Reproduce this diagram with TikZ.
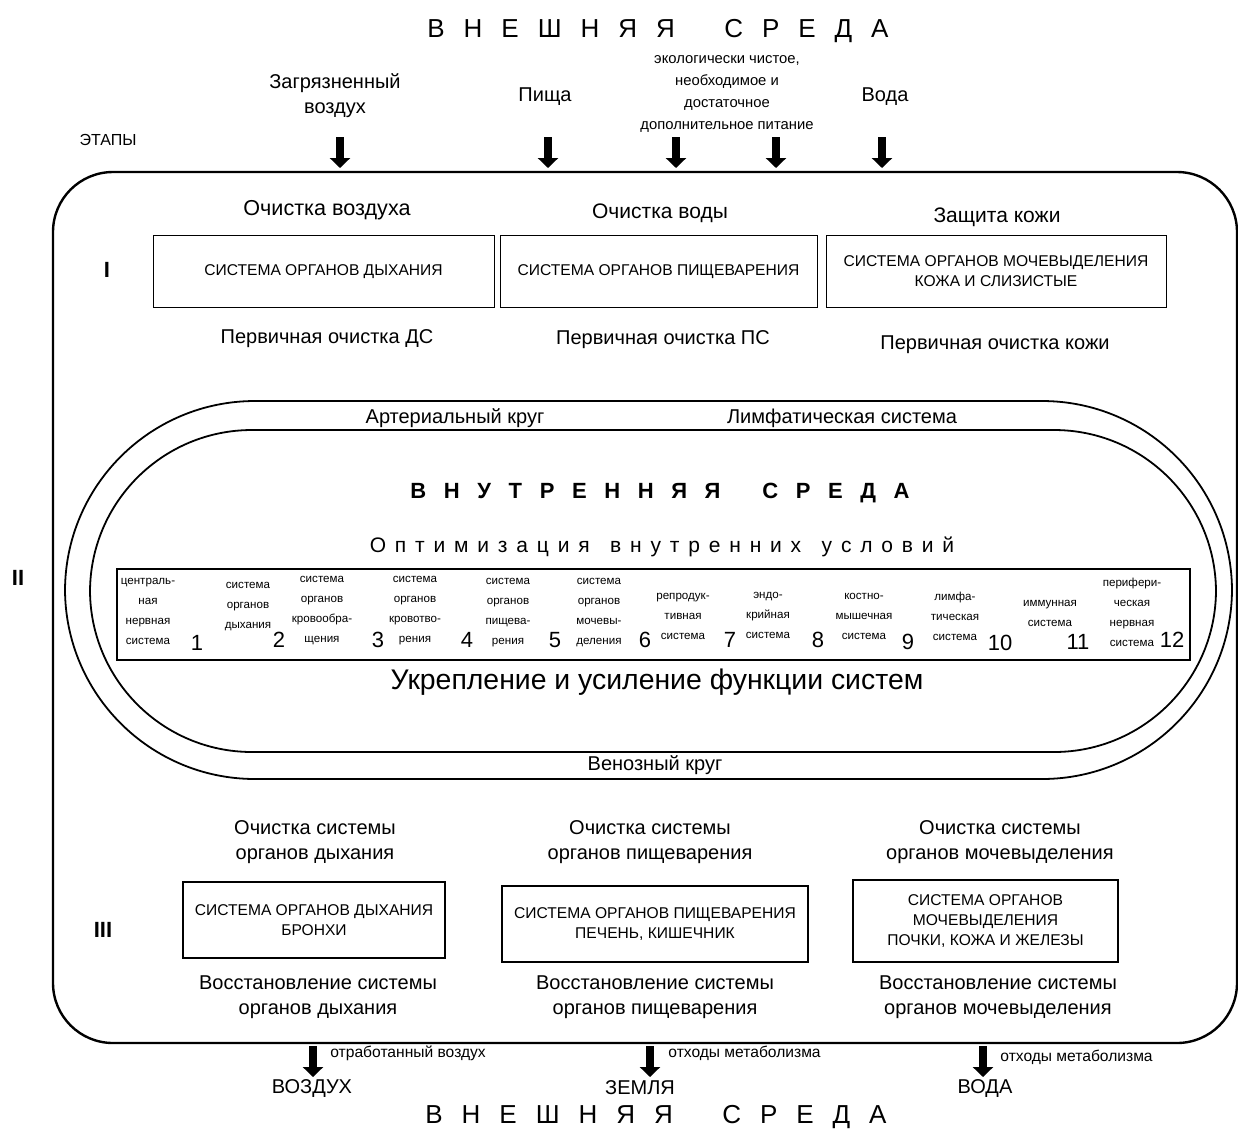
\documentclass[tikz,border=0pt]{standalone}
\usepackage{fontspec}
\setmainfont{Liberation Sans}
\usetikzlibrary{arrows.meta, positioning}
\newcommand{\ls}{\hspace{0.73em}}
\newcommand{\ws}{\hspace{1.9em}}
\newcommand{\lsin}{\hspace{0.8em}}
\newcommand{\lso}{\hspace{0.42em}}

\begin{document}
\begin{tikzpicture}[x=0.5pt, y=-0.5pt,
    lbl/.style={font=\fontsize{10}{12.5}\selectfont, align=center, inner sep=1pt},
    captxt/.style={font=\fontsize{7.8}{10}\selectfont, align=center, inner sep=1pt},
    small/.style={font=\fontsize{5.8}{10}\selectfont, align=center, inner sep=0pt},
    note/.style={font=\fontsize{7.8}{9}\selectfont, anchor=west, inner sep=0pt},
    num/.style={font=\fontsize{11}{11}\selectfont, inner sep=0pt},
    stage/.style={font=\bfseries\fontsize{11}{11}\selectfont},
    title/.style={font=\fontsize{13}{13}\selectfont},
    flow/.style={-{Triangle[width=10pt,length=5pt]}, line width=3.6pt},
    boxI/.style={draw, line width=0.5pt, minimum height=36pt, captxt},
    boxIII/.style={draw, line width=1pt, minimum height=38pt, captxt}]
    \useasboundingbox (0,0) rectangle (1238,1137);

    % Outer frame
    \draw[line width=1.2pt, rounded corners=30pt] (53,172) rectangle (1237,1043);

    % Titles
    \node[title] (outTop) at (658,31)
        {В\ls Н\ls Е\ls Ш\ls Н\ls Я\ls Я\ws С\ls Р\ls Е\ls Д\ls А};
    \node[title] (outBot) at (656,1117)
        {В\ls Н\ls Е\ls Ш\ls Н\ls Я\ls Я\ws С\ls Р\ls Е\ls Д\ls А};
    \node[font=\fontsize{8}{8}\selectfont] (stages) at (108,140) {ЭТАПЫ};

    % Inputs
    \node[lbl] (air) at (335,96) {Загрязненный\\воздух};
    \node[lbl] (food) at (545,97) {Пища};
    \node[small, font=\fontsize{7.4}{11}\selectfont] (eco) at (727,94)
        {экологически чистое,\\необходимое и\\достаточное\\дополнительное питание};
    \node[lbl] (water) at (885,97) {Вода};
    \foreach \n/\x in {a/340, b/548, c/676, d/776, e/882} {
        \coordinate (in\n) at (\x,137);
        \coordinate (inE\n) at (\x,168);
        \draw[flow] (in\n) -- (inE\n);
    }

    % Stage I
    \node[stage] (st1) at (107,270) {I};
    \node[boxI, minimum width=170.5pt] (resp) at (323.5,271.5) {СИСТЕМА ОРГАНОВ ДЫХАНИЯ};
    \node[boxI, minimum width=158.5pt] (dig) at (658.5,271.5) {СИСТЕМА ОРГАНОВ ПИЩЕВАРЕНИЯ};
    \node[boxI, minimum width=170pt] (uri) at (996,271.5) {СИСТЕМА ОРГАНОВ МОЧЕВЫДЕЛЕНИЯ\\КОЖА И СЛИЗИСТЫЕ};
    \node[lbl, font=\fontsize{10.8}{12}\selectfont] (cAir) at (327,210) {Очистка воздуха};
    \node[lbl, font=\fontsize{10.5}{12}\selectfont] (cWat) at (660,213) {Очистка воды};
    \node[lbl, font=\fontsize{10.5}{12}\selectfont] (cSkin) at (997,217) {Защита кожи};
    \node[lbl] (pDS) at (327,339) {Первичная очистка ДС};
    \node[lbl] (pPS) at (663,340) {Первичная очистка ПС};
    \node[lbl] (pSk) at (995,345) {Первичная очистка кожи};

    % Stage II: internal medium
    \node[stage] (st2) at (18,578) {II};
    \draw[line width=0.9pt, rounded corners=95pt] (65,401) rectangle (1232,779);
    \draw[line width=0.9pt, rounded corners=81pt] (90,430) rectangle (1216,752);
    \node[lbl] (art) at (455,418) {Артериальный круг};
    \node[lbl] (lym) at (842,418) {Лимфатическая система};
    \node[lbl] (ven) at (655,765) {Венозный круг};
    \node[font=\bfseries\fontsize{11}{11}\selectfont] (inner) at (660,493)
        {В\lsin Н\lsin У\lsin Т\lsin Р\lsin Е\lsin Н\lsin Н\lsin Я\lsin Я\ws С\lsin Р\lsin Е\lsin Д\lsin А};
    \node[font=\fontsize{10.5}{11}\selectfont] (optim) at (662,547)
        {О\lso п\lso т\lso и\lso м\lso и\lso з\lso а\lso ц\lso и\lso я\lso\ \ в\lso н\lso у\lso т\lso р\lso е\lso н\lso н\lso и\lso х\lso\ \ у\lso с\lso л\lso о\lso в\lso и\lso й};
    \draw[line width=1.4pt] (117,569) rectangle (1190,660);
    \node[font=\fontsize{14.2}{15}\selectfont] (streng) at (657,682)
        {Укрепление и усиление функции систем};

    % Systems of the body
    \node[small] (s1) at (148,611) {централь-\\ная\\нервная\\система};
    \node[num] (n1) at (197,643) {1};
    \node[small] (s2) at (248,607) {система\\органов\\дыхания};
    \node[num] (n2) at (279,640) {2};
    \node[small] (s3) at (322,611) {система\\органов\\кровообра-\\щения};
    \node[num] (n3) at (378,640) {3};
    \node[small] (s4) at (415,611) {система\\органов\\кровотво-\\рения};
    \node[num] (n4) at (467,640) {4};
    \node[small] (s5) at (508,613) {система\\органов\\пищева-\\рения};
    \node[num] (n5) at (555,640) {5};
    \node[small] (s6) at (599,613) {система\\органов\\мочевы-\\деления};
    \node[num] (n6) at (645,640) {6};
    \node[small] (s7) at (683,616) {репродук-\\тивная\\система};
    \node[num] (n7) at (730,640) {7};
    \node[small] (s8) at (768,615) {эндо-\\крийная\\система};
    \node[num] (n8) at (818,640) {8};
    \node[small] (s9) at (864,616) {костно-\\мышечная\\система};
    \node[num] (n9) at (908,642) {9};
    \node[small] (s10) at (955,616) {лимфа-\\тическая\\система};
    \node[num] (n10) at (1000,643) {10};
    \node[small] (s11) at (1050,613) {иммунная\\система};
    \node[num] (n11) at (1078,642) {11};
    \node[small] (s12) at (1132,612) {перифери-\\ческая\\нервная\\система};
    \node[num] (n12) at (1172,640) {12};

    % Stage III
    \node[stage] (st3) at (103,930) {III};
    \node[lbl] (kResp) at (315,842) {Очистка системы\\органов дыхания};
    \node[lbl] (kDig) at (650,842) {Очистка системы\\органов пищеварения};
    \node[lbl] (kUri) at (1000,842) {Очистка системы\\органов мочевыделения};
    \node[boxIII, minimum width=131pt] (bResp) at (314,920) {СИСТЕМА ОРГАНОВ ДЫХАНИЯ\\БРОНХИ};
    \node[boxIII, minimum width=153pt] (bDig) at (655,924) {СИСТЕМА ОРГАНОВ ПИЩЕВАРЕНИЯ\\ПЕЧЕНЬ, КИШЕЧНИК};
    \node[boxIII, minimum width=132.5pt, minimum height=41pt] (bUri) at (985.5,921)
        {СИСТЕМА ОРГАНОВ\\МОЧЕВЫДЕЛЕНИЯ\\ПОЧКИ, КОЖА И ЖЕЛЕЗЫ};
    \node[lbl] (rResp) at (318,997) {Восстановление системы\\органов дыхания};
    \node[lbl] (rDig) at (655,997) {Восстановление системы\\органов пищеварения};
    \node[lbl] (rUri) at (998,997) {Восстановление системы\\органов мочевыделения};

    % Outputs
    \foreach \n/\x in {a/313, b/650, c/983} {
        \coordinate (out\n) at (\x,1046);
        \coordinate (outE\n) at (\x,1077);
        \draw[flow] (out\n) -- (outE\n);
    }
    \node[note] (usedAir) at (330,1053) {отработанный воздух};
    \node[note] (waste1) at (668,1053) {отходы метаболизма};
    \node[note] (waste2) at (1000,1057) {отходы метаболизма};
    \node[lbl] (oAir) at (312,1088) {ВОЗДУХ};
    \node[lbl] (oEarth) at (640,1088) {ЗЕМЛЯ};
    \node[lbl] (oWater) at (985,1088) {ВОДА};
\end{tikzpicture}
\end{document}
